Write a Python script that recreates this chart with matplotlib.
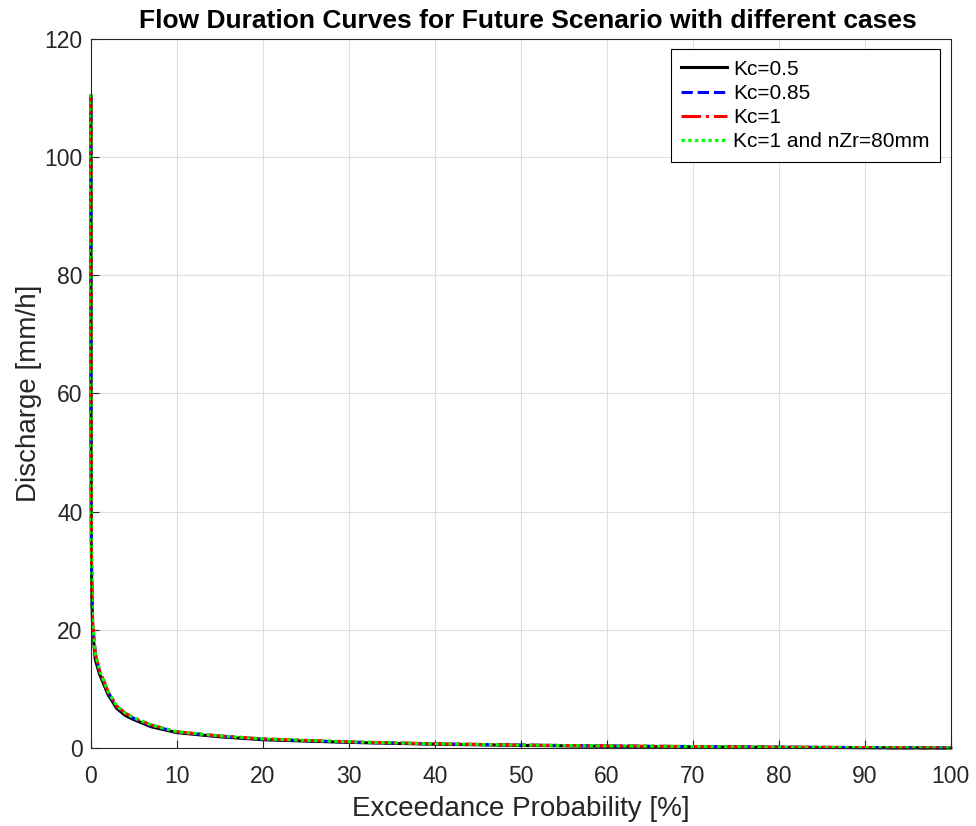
import numpy as np
import matplotlib.pyplot as plt

plt.rcParams['font.family'] = ['Liberation Sans', 'DejaVu Sans']

# exceedance probability [%] and discharge [mm/h]
p = [0, 0.01, 0.05, 0.1, 0.2, 0.5, 1, 2, 3, 4, 5, 7, 10, 15, 20, 30, 40, 50, 60, 70, 80, 90, 100]
q_kc05 = [110.0, 58, 33, 26, 20, 15, 12.5, 9.0, 6.7, 5.5, 4.8, 3.6, 2.6, 1.9, 1.4, 0.95, 0.65, 0.45, 0.3, 0.2, 0.12, 0.06, 0.0]
q_kc085 = [110.5, 60, 35, 27, 21, 16, 13, 9.4, 7.0, 5.8, 5.0, 3.8, 2.7, 2.0, 1.5, 1.0, 0.7, 0.5, 0.35, 0.25, 0.15, 0.08, 0.0]
q_kc1 = [110.6, 60, 35, 27, 21, 16, 13.1, 9.5, 7.1, 5.9, 5.1, 3.9, 2.75, 2.05, 1.55, 1.05, 0.72, 0.5, 0.36, 0.25, 0.15, 0.08, 0.0]
q_kc1_nzr = [110.6, 60, 35, 27, 21, 16, 13.1, 9.5, 7.1, 5.9, 5.1, 3.9, 2.75, 2.05, 1.55, 1.05, 0.72, 0.5, 0.36, 0.25, 0.15, 0.08, 0.0]

fig = plt.figure(figsize=(9.76, 8.26), dpi=100)
ax = fig.add_axes([0.0932, 0.0944, 0.881, 0.8586])

kw = dict(lw=2.2, clip_on=False)
ax.plot(p, q_kc05, 'k-', label='Kc=0.5', **kw)
ax.plot(p, q_kc085, '--', color=(0, 0, 1), label='Kc=0.85', **kw)
ax.plot(p, q_kc1, '-.', color=(1, 0, 0), label='Kc=1', **kw)
ax.plot(p, q_kc1_nzr, color=(0, 1, 0), dashes=(1.1, 1.1), label='Kc=1 and nZr=80mm', **kw)

ax.set_xlim(0, 100)
ax.set_ylim(0, 120)
ax.set_xticks(np.arange(0, 101, 10))
ax.set_yticks(np.arange(0, 121, 20))
ax.grid(True, color=(0.87, 0.87, 0.87), lw=0.8)
ax.set_axisbelow(True)
ax.tick_params(direction='in', labelsize=16.5, colors=(0.15, 0.15, 0.15), length=6)
ax.tick_params(axis='x', pad=12)
ax.tick_params(axis='y', pad=6)
for s in ax.spines.values():
    s.set_color((0.15, 0.15, 0.15))
    s.set_linewidth(0.8)

ax.set_xlabel('Exceedance Probability [%]', fontsize=20, color=(0.15, 0.15, 0.15), labelpad=6)
ax.set_ylabel('Discharge [mm/h]', fontsize=20, color=(0.15, 0.15, 0.15), labelpad=2)
ax.set_title('Flow Duration Curves for Future Scenario with different cases',
             fontsize=19, fontweight='bold', pad=8, x=0.508)

leg = ax.legend(loc='upper right', fontsize=15, fancybox=False, edgecolor='k',
                framealpha=1, handlelength=2.2, handletextpad=0.3,
                borderaxespad=0.5, labelspacing=0.25, borderpad=0.5)
leg.get_frame().set_linewidth(0.8)

fig.savefig('out.png', dpi=100)
